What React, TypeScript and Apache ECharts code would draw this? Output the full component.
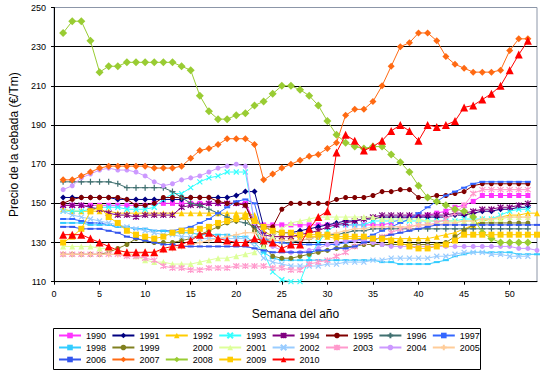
import React, { useEffect, useRef } from 'react';
import * as echarts from 'echarts';

const weeks = [1,2,3,4,5,6,7,8,9,10,11,12,13,14,15,16,17,18,19,20,21,22,23,24,25,26,27,28,29,30,31,32,33,34,35,36,37,38,39,40,41,42,43,44,45,46,47,48,49,50,51,52,53];
const xTicks = [0, 5, 10, 15, 20, 25, 30, 35, 40, 45, 50];
const yTicks = [110, 130, 150, 170, 190, 210, 230, 250];
const years = ['1990','1991','1992','1993','1994','1995','1996','1997','1998','1999','2000','2001','2002','2003','2004','2005','2006','2007','2008','2009','2010'];

const v1990 = [149,149,149,149,149,149,149,149,149,149,150,150,150,150,150,150,150,150,150,150,150,141,139,139,139,139,139,139,139,139,139,139,139,139,139,139,140,142,143,143,144,145,146,148,149,151,154,154,154,154,154,154];
const v1991 = [153,153,153,153,153,153,152,152,152,152,152,152,152,152,153,153,153,153,153,154,156,156,138,136,135,135,136,137,138,139,140,141,141,142,142,143,143,143,143,143,143,143,143,144,144,145,146,146,147,147,148,148];
const v1992 = [147,146,146,146,146,146,145,145,145,145,145,145,145,145,145,145,145,145,145,145,145,144,136,133,133,133,133,133,133,133,132,132,132,132,132,132,132,132,132,132,132,133,134,135,137,139,141,142,143,144,144,145,145];
const v1993 = [146,146,146,147,148,148,148,147,147,147,148,152,155,155,158,161,163,164,166,166,166,140,125,115,111,110,110,122,130,136,139,139,139,139,141,141,141,141,141,141,141,141,141,141,142,142,142,142,144,146,147,147];
const v1994 = [149,149,149,148,147,145,144,144,143,144,144,144,144,148,149,149,150,150,150,150,149,140,134,133,133,133,134,135,136,138,139,140,141,142,143,144,144,144,144,144,144,144,144,145,145,146,147,147,148,148,149,150];
const v1995 = [150,152,153,153,153,153,153,152,149,149,150,153,153,153,153,153,153,151,150,150,149,138,138,138,147,150,150,150,150,150,152,153,153,153,154,156,156,157,157,153,153,154,154,155,156,159,160,160,160,160,160,160];
const v1996 = [161,161,161,161,161,161,160,158,158,158,158,158,156,153,150,149,147,145,143,141,140,138,132,130,130,130,131,132,133,134,134,135,136,136,137,137,137,137,137,137,137,137,137,137,137,137,137,137,137,137,137,137];
const v1997 = [142,142,141,140,140,139,138,138,137,137,136,136,136,137,138,140,142,145,148,151,152,150,133,130,130,129,129,129,129,129,129,130,131,132,134,136,138,140,142,145,148,151,154,156,158,160,161,161,161,161,161,161];
const v1998 = [140,140,140,139,139,139,138,138,137,137,136,136,135,135,135,134,134,134,134,133,133,130,125,122,121,121,121,121,121,121,121,121,121,121,121,120,120,119,119,119,119,120,121,123,124,125,125,125,125,125,124,124,124];
const v1999 = [124,124,124,124,124,125,127,129,132,131,130,130,130,131,132,134,136,138,140,141,143,136,128,123,122,122,123,124,125,126,127,128,128,129,129,129,129,129,129,129,129,129,130,133,136,139,140,140,140,140,140,140];
const v2000: number[] = [];
const v2001 = [128,128,128,128,127,127,126,125,123,121,120,120,119,119,119,120,121,122,122,123,124,125,128,133,137,140,141,142,143,143,143,143,143,143,143,142,142,142,142,142,141,141,141,141,141,141,142,142,142,143,143,143];
const v2002 = [146,144,143,142,141,140,139,138,137,136,135,134,134,133,133,132,132,132,132,132,132,128,122,120,119,118,118,118,118,119,119,120,120,120,121,121,122,122,122,122,122,123,123,124,125,125,125,124,124,123,123,123];
const v2003 = [124,124,124,124,124,124,124,123,123,122,121,118,117,117,116,116,117,117,117,118,118,118,118,117,117,116,116,119,120,121,123,125,128,130,131,133,135,137,138,139,139,140,142,145,149,155,157,157,157,157,157,157];
const v2004 = [157,159,163,165,167,168,167,167,166,164,161,159,160,162,163,164,166,168,169,170,169,140,132,128,126,125,125,126,127,129,130,131,131,131,130,129,128,128,128,128,128,128,128,128,128,128,128,128,128,128,127,127,126];
const v2005 = [124,124,124,124,124,124,124,124,124,125,125,126,127,128,129,130,131,132,133,134,135,135,133,131,131,131,131,132,133,134,135,136,137,137,138,138,138,138,138,139,139,139,140,140,141,141,142,142,143,143,143,143];
const v2006 = [138,138,137,137,137,136,135,133,132,131,130,129,129,128,128,128,128,128,128,128,128,127,126,125,125,125,125,125,126,126,127,127,128,130,131,133,134,135,136,137,138,139,139,139,139,139,139,139,139,139,139,139,139];
const v2007 = [162,162,164,166,168,169,169,169,169,169,168,168,168,169,173,177,178,180,183,183,183,180,162,165,168,170,172,174,175,178,181,195,198,198,202,210,220,230,232,237,237,233,225,221,219,217,217,217,218,228,234,234];
const v2008 = [237,243,243,233,217,220,220,222,222,222,222,222,222,220,218,205,197,193,193,195,196,200,202,206,210,210,208,205,200,192,185,181,179,178,179,179,175,171,166,159,153,151,149,147,146,143,135,132,130,130,130,130];
const v2009 = [130,133,137,146,148,143,140,136,134,133,132,133,135,136,136,137,138,140,141,142,143,141,138,136,135,135,134,134,134,134,133,133,133,133,132,132,131,130,128,127,127,128,129,131,134,134,134,134,134,134,134,134,134];
const v2010 = [134,134,134,132,130,128,126,125,125,125,125,127,128,129,131,134,135,132,131,130,130,132,131,130,127,129,129,137,143,146,176,185,182,177,179,182,187,190,187,182,190,189,190,192,199,200,203,206,210,218,226,233];

const values = [v1990,v1991,v1992,v1993,v1994,v1995,v1996,v1997,v1998,v1999,v2000,v2001,v2002,v2003,v2004,v2005,v2006,v2007,v2008,v2009,v2010];

const X = 'path://M0,0L10,10M10,0L0,10';
const AST = 'path://M0,0L10,10M10,0L0,10M5,-1L5,11';
const PLUS = 'path://M5,0L5,10M0,5L10,5';

const styles: Record<string, { color: string; symbol: string; size: any; stroke?: boolean }> = {
  '1990': { color: '#FF33FF', symbol: 'rect', size: 5 },
  '1991': { color: '#000080', symbol: 'diamond', size: 6 },
  '1992': { color: '#FFCC00', symbol: 'triangle', size: 6 },
  '1993': { color: '#33FFFF', symbol: X, size: 5, stroke: true },
  '1994': { color: '#800080', symbol: AST, size: 6, stroke: true },
  '1995': { color: '#800000', symbol: 'circle', size: 5 },
  '1996': { color: '#407070', symbol: PLUS, size: 6, stroke: true },
  '1997': { color: '#3366FF', symbol: 'rect', size: [6, 2] },
  '1998': { color: '#33CCFF', symbol: 'rect', size: [6, 2] },
  '1999': { color: '#808020', symbol: 'circle', size: 5 },
  '2000': { color: 'rgba(0,0,0,0)', symbol: 'none', size: 0 },
  '2001': { color: '#DDFF99', symbol: 'triangle', size: 6 },
  '2002': { color: '#99CCFF', symbol: X, size: 5, stroke: true },
  '2003': { color: '#FF99CC', symbol: AST, size: 6, stroke: true },
  '2004': { color: '#CC99FF', symbol: 'circle', size: 5 },
  '2005': { color: '#FFCC99', symbol: PLUS, size: 6, stroke: true },
  '2006': { color: '#3355EE', symbol: 'rect', size: [6, 2] },
  '2007': { color: '#FF6A13', symbol: 'diamond', size: 7 },
  '2008': { color: '#99CC33', symbol: 'diamond', size: 8 },
  '2009': { color: '#FFCC00', symbol: 'rect', size: 6 },
  '2010': { color: '#FF0000', symbol: 'triangle', size: 8 },
};

const FONT = 'Liberation Sans, Arial, sans-serif';

export default function App() {
  const ref = useRef<HTMLDivElement>(null);
  useEffect(() => {
    if (!ref.current) return;
    const chart = echarts.init(ref.current, undefined, { renderer: 'svg' });
    const series = years.map((y, k) => {
      const s = styles[y];
      return {
        name: y,
        type: 'line',
        data: values[k].map((v, i) => [weeks[i], v]),
        symbol: s.symbol,
        symbolSize: s.size,
        showSymbol: s.symbol !== 'none',
        color: s.color,
        lineStyle: { width: 1, color: s.color },
        itemStyle: { color: s.color, borderColor: s.color, borderWidth: s.stroke ? 1.2 : 0 },
        emphasis: { disabled: true },
        z: 2 + k,
      };
    });
    const legends = [0, 1, 2, 3, 4, 5, 6, 7].map((c) => ({
      orient: 'vertical',
      left: 58 + c * 53.4,
      top: 331,
      padding: 0,
      itemWidth: 22,
      itemHeight: 7,
      itemGap: 3,
      selectedMode: false,
      textStyle: { fontSize: 9, color: '#000', fontFamily: FONT },
      data: [years[c], years[c + 8], years[c + 16]].filter(Boolean),
    }));
    chart.setOption({
      animation: false,
      textStyle: { fontFamily: FONT },
      grid: { left: 52, right: 11, top: 7.5, bottom: 91.3, show: true, borderColor: '#8c96a8', borderWidth: 1 },
      xAxis: {
        type: 'value', min: 0, max: 53, interval: 5,
        name: 'Semana del año', nameLocation: 'middle', nameGap: 26,
        nameTextStyle: { fontSize: 12, color: '#000', fontFamily: FONT },
        axisLine: { lineStyle: { color: '#000', width: 1 } },
        axisTick: { show: true, length: 3, lineStyle: { color: '#000' } },
        axisLabel: { fontSize: 9, color: '#000', margin: 8, showMaxLabel: false, fontFamily: FONT,
          formatter: (v: number) => (xTicks.indexOf(v) >= 0 ? String(v) : '') },
        splitLine: { show: false },
      },
      yAxis: {
        type: 'value', min: 110, max: 250, interval: 20,
        name: 'Precio de la cebada (€/Tm)', nameLocation: 'middle', nameGap: 34,
        nameTextStyle: { fontSize: 12, color: '#000', fontFamily: FONT },
        axisLine: { show: true, lineStyle: { color: '#000', width: 1 } },
        axisTick: { show: true, length: 3, lineStyle: { color: '#000' } },
        axisLabel: { fontSize: 9, color: '#000', margin: 8, fontFamily: FONT,
          formatter: (v: number) => (yTicks.indexOf(v) >= 0 ? String(v) : '') },
        splitLine: { show: true, showMaxLine: false, showMinLine: false, lineStyle: { color: '#000', width: 1 } },
      },
      legend: legends,
      graphic: [
        { type: 'rect', silent: true, shape: { x: 53.5, y: 328.5, width: 427, height: 41 }, style: { fill: 'none', stroke: '#000', lineWidth: 1 } },
      ],
      series,
    });
    return () => chart.dispose();
  }, []);
  return <div ref={ref} style={{ position: 'fixed', left: 0, top: 0, width: 548, height: 373, background: '#fff' }} />;
}
